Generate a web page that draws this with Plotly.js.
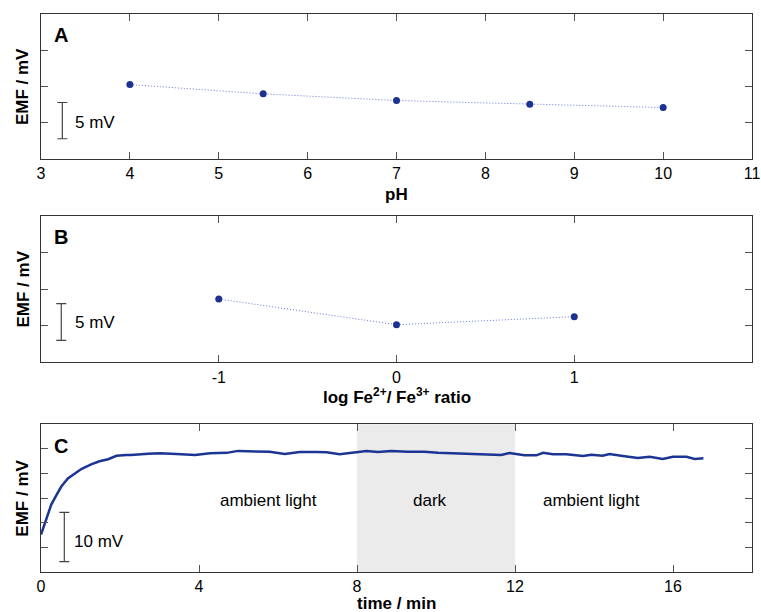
<!DOCTYPE html>
<html>
<head>
<meta charset="utf-8">
<script src="https://cdn.plot.ly/plotly-3.0.1.min.js"></script>
<style>html,body{margin:0;padding:0;background:#fff;}#chart{width:761px;height:612px;}</style>
</head>
<body>
<div id="chart"></div>
<script>
// Panel A: EMF vs pH (relative mV)
const pH = [4, 5.5, 7, 8.5, 10];
const emfA = [10.27, 8.99, 8.07, 7.57, 7.1];
const pHTicks = [3, 4, 5, 6, 7, 8, 9, 10, 11];

// Panel B: EMF vs log Fe2+/Fe3+ ratio
const logRatio = [-1, 0, 1];
const emfB = [8.63, 5.13, 6.22];
const ratioTicks = [-1, 0, 1];

// Panel C: EMF vs time
const timeMin = [0.0, 0.09, 0.18, 0.26, 0.39, 0.51, 0.68, 0.85, 1.02, 1.27, 1.48, 1.70, 1.91, 2.16, 2.28, 2.71, 3.01, 3.43, 3.90, 4.28, 4.70, 4.99, 5.46, 5.79, 6.17, 6.55, 6.97, 7.23, 7.56, 7.90, 8.24, 8.53, 8.87, 9.29, 9.71, 10.05, 10.47, 10.81, 11.23, 11.65, 11.86, 12.24, 12.54, 12.71, 12.96, 13.30, 13.72, 13.93, 14.22, 14.39, 14.73, 15.11, 15.41, 15.74, 16.0, 16.34, 16.55, 16.77];
const emfC = [7.6, 9.85, 11.9, 13.7, 15.6, 17.3, 19.0, 20.0, 20.9, 21.85, 22.5, 22.9, 23.6, 23.75, 23.75, 24.0, 24.1, 23.95, 23.75, 24.1, 24.2, 24.6, 24.55, 24.4, 23.95, 24.35, 24.35, 24.3, 23.9, 24.2, 24.6, 24.35, 24.6, 24.4, 24.4, 24.2, 24.1, 24.1, 24.0, 23.75, 24.15, 23.7, 23.7, 24.2, 23.9, 23.9, 23.55, 23.8, 23.6, 23.95, 23.55, 23.15, 23.4, 22.95, 23.4, 23.4, 22.95, 23.1];
const timeTicks = [0, 4, 8, 12, 16];
const darkPeriod = [8, 12];
const regionLabels = ["ambient light", "dark", "ambient light"];
const regionX = [5.77, 9.84, 13.94];

// scale bars: [x, centre, half-length]
const scaleA = [3.24, 5.3, 2.5];
const scaleB = [-1.886, 5.5, 2.5];
const scaleC = [0.59, 7.1, 5];

const FONT = "Liberation Sans, Arial, sans-serif";
const markerColor = "#1c3191";
const dotColor = "#6575d4";
const axisColor = "#333333";

function scaleTrace(s, xa, ya) {
  return {x: [s[0]], y: [s[1]], xaxis: xa, yaxis: ya, mode: "markers",
    marker: {size: 1, opacity: 0}, hoverinfo: "skip",
    error_y: {type: "data", array: [s[2]], symmetric: true, width: 5, thickness: 1.2, color: "#444"}};
}

const traces = [
  {x: pH, y: emfA, xaxis: "x", yaxis: "y", mode: "lines+markers",
   line: {color: dotColor, width: 1, dash: "1px,2px"}, marker: {color: markerColor, size: 7}},
  {x: logRatio, y: emfB, xaxis: "x2", yaxis: "y2", mode: "lines+markers",
   line: {color: dotColor, width: 1, dash: "1px,2px"}, marker: {color: markerColor, size: 7}},
  {x: timeMin, y: emfC, xaxis: "x3", yaxis: "y3", mode: "lines",
   line: {color: "#1c3494", width: 2.5}},
  scaleTrace(scaleA, "x", "y"),
  scaleTrace(scaleB, "x2", "y2"),
  scaleTrace(scaleC, "x3", "y3")
];

function xax(range, ticks, anchor) {
  return {range: range, tickvals: ticks, ticktext: ticks.map(String), anchor: anchor,
    showline: true, mirror: "ticks", linecolor: axisColor, linewidth: 1,
    ticks: "inside", ticklen: 7, tickcolor: "#555", tickwidth: 1,
    showgrid: false, zeroline: false,
    tickfont: {family: FONT, size: 16, color: "#000"}, fixedrange: true};
}
function yax(domain, range, ticks, anchor) {
  return {domain: domain, range: range, tickvals: ticks, anchor: anchor,
    showticklabels: false, showline: true, mirror: "ticks", linecolor: axisColor, linewidth: 1,
    ticks: "inside", ticklen: 7, tickcolor: "#555", tickwidth: 1,
    showgrid: false, zeroline: false, fixedrange: true};
}

const ann = [];
function addText(text, xref, yref, x, y, opts) {
  ann.push(Object.assign({text: text, xref: xref, yref: yref, x: x, y: y, showarrow: false,
    xanchor: "center", yanchor: "middle", font: {family: FONT, size: 17, color: "#000"}}, opts || {}));
}
// panel letters
addText("<b>A</b>", "x domain", "y domain", 0.0155, 0.855, {xanchor: "left", font: {family: FONT, size: 20, color: "#000"}});
addText("<b>B</b>", "x2 domain", "y2 domain", 0.0155, 0.853, {xanchor: "left", font: {family: FONT, size: 20, color: "#000"}});
addText("<b>C</b>", "x3 domain", "y3 domain", 0.0155, 0.856, {xanchor: "left", font: {family: FONT, size: 20, color: "#000"}});
// y titles
[["x domain", "y domain"], ["x2 domain", "y2 domain"], ["x3 domain", "y3 domain"]].forEach(r => {
  addText("<b>EMF / mV</b>", r[0], r[1], -0.026, 0.5, {textangle: -90});
});
// x titles
addText("<b>pH</b>", "x domain", "y domain", 0.5, -0.245);
addText("<b>log Fe<sup>2+</sup>/ Fe<sup>3+</sup> ratio</b>", "x2 domain", "y2 domain", 0.5, -0.23);
addText("<b>time / min</b>", "x3 domain", "y3 domain", 0.5, -0.212);
// scale bar labels
addText("5 mV", "x", "y", 3.36, 5.1, {xanchor: "left"});
addText("5 mV", "x2", "y2", -1.82, 5.45, {xanchor: "left"});
addText("10 mV", "x3", "y3", 0.79, 6.25, {xanchor: "left"});
// region labels
regionLabels.forEach((t, i) => addText(t, "x3", "y3", regionX[i], 14.6));

const layout = {
  width: 761, height: 612,
  margin: {l: 41, r: 9, t: 14, b: 40},
  paper_bgcolor: "#fff", plot_bgcolor: "#fff",
  showlegend: false,
  font: {family: FONT, color: "#000"},
  xaxis: xax([3, 11], pHTicks, "y"),
  yaxis: yax([0.740, 1], [0, 20], [5, 10, 15], "x"),
  xaxis2: xax([-2, 2], ratioTicks, "y2"),
  yaxis2: yax([0.3758, 0.6385], [0, 20], [5, 10, 15], "x2"),
  xaxis3: xax([0, 18], timeTicks, "y3"),
  yaxis3: yax([0, 0.2647], [0, 30], [5, 10, 15, 20, 25], "x3"),
  shapes: [{type: "rect", xref: "x3", yref: "y3 domain", x0: darkPeriod[0], x1: darkPeriod[1], y0: 0, y1: 1,
    fillcolor: "#ebebeb", line: {width: 0}, layer: "below"}],
  annotations: ann
};

Plotly.newPlot("chart", traces, layout, {displayModeBar: false, staticPlot: true});
</script>
</body>
</html>
